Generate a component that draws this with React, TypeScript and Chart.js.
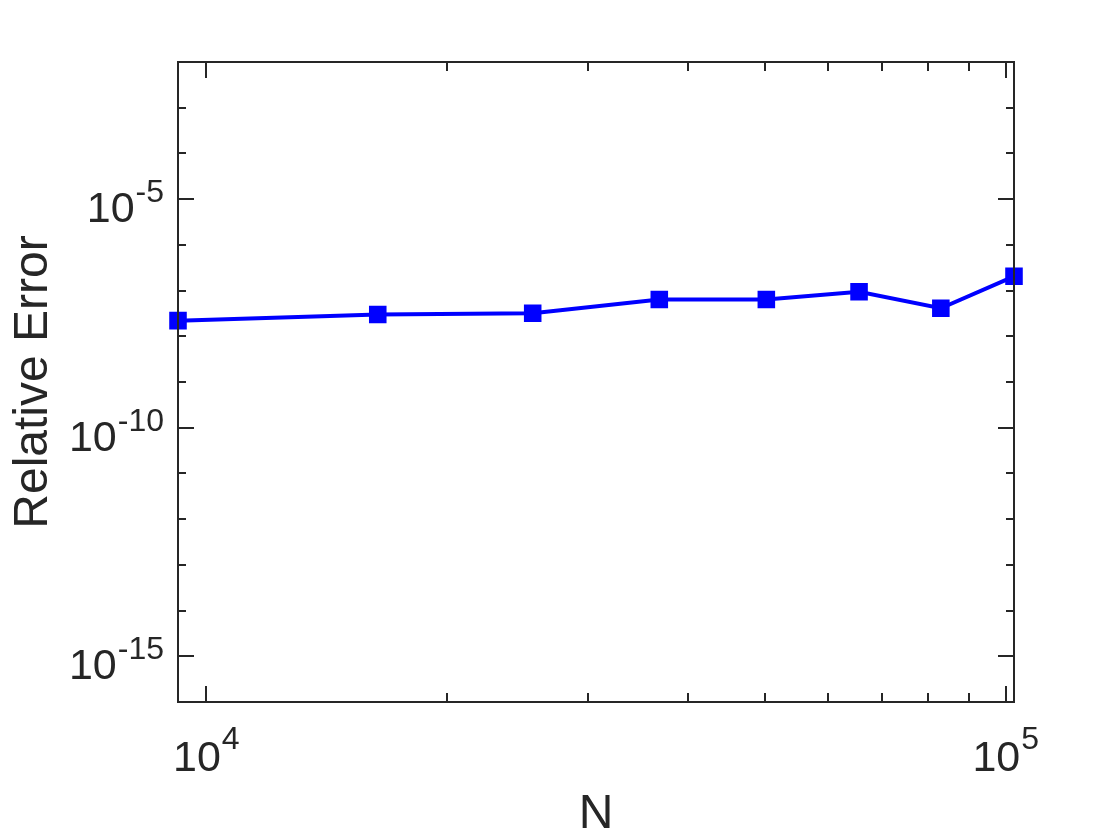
import React, { useEffect, useRef } from "react";
import { Chart, registerables } from "chart.js";

Chart.register(...registerables);

const nValues = [9216, 16384, 25600, 36864, 50176, 65536, 82944, 102400];
const relErrors = [2.2e-8, 3.0e-8, 3.2e-8, 6.4e-8, 6.4e-8, 9.4e-8, 4.1e-8, 2.05e-7];
const yTickExponents = [-16, -15, -14, -13, -12, -11, -10, -9, -8, -7, -6, -5, -4, -3, -2];
const yLabelExponents = [-15, -10, -5];
const xTickValues = [10000, 20000, 30000, 40000, 50000, 60000, 70000, 80000, 90000, 100000];
const xLabelExponents = [4, 5];
const xTitle = "N";
const yTitle = "Relative Error";

const AXIS_COLOR = "#262626";
const FONT = "'Liberation Sans', Arial, Helvetica, sans-serif";

const decorPlugin = {
  id: "matlabDecor",
  afterDraw(chart: any) {
    const ctx = chart.ctx as CanvasRenderingContext2D;
    const area = chart.chartArea;
    const xs = chart.scales.x;
    const ys = chart.scales.y;
    ctx.save();
    ctx.strokeStyle = AXIS_COLOR;
    ctx.fillStyle = AXIS_COLOR;
    ctx.lineWidth = 2;
    ctx.strokeRect(area.left, area.top, area.right - area.left, area.bottom - area.top);
    ctx.beginPath();
    for (const e of yTickExponents) {
      const p = Math.round(ys.getPixelForValue(Math.pow(10, e)));
      const len = yLabelExponents.includes(e) ? 16 : 8;
      ctx.moveTo(area.left, p);
      ctx.lineTo(area.left + len, p);
      ctx.moveTo(area.right, p);
      ctx.lineTo(area.right - len, p);
    }
    for (const v of xTickValues) {
      const p = Math.round(xs.getPixelForValue(v));
      const major = xLabelExponents.some((e) => Math.pow(10, e) === v);
      const len = major ? 16 : 9;
      ctx.moveTo(p, area.bottom);
      ctx.lineTo(p, area.bottom - len);
      ctx.moveTo(p, area.top);
      ctx.lineTo(p, area.top + len);
    }
    ctx.stroke();

    const mainFont = `43px ${FONT}`;
    const expFont = `32px ${FONT}`;
    ctx.textBaseline = "alphabetic";
    for (const e of yLabelExponents) {
      const p = ys.getPixelForValue(Math.pow(10, e));
      const expText = String(e);
      ctx.font = expFont;
      const ew = ctx.measureText(expText).width;
      ctx.font = mainFont;
      const mw = ctx.measureText("10").width;
      const right = area.left - 14;
      const base = p + 23;
      ctx.textAlign = "left";
      ctx.font = mainFont;
      ctx.fillText("10", right - ew - mw - 1, base);
      ctx.font = expFont;
      ctx.fillText(expText, right - ew, base - 20);
    }
    for (const e of xLabelExponents) {
      const p = xs.getPixelForValue(Math.pow(10, e));
      const expText = String(e);
      ctx.font = expFont;
      const ew = ctx.measureText(expText).width;
      ctx.font = mainFont;
      const mw = ctx.measureText("10").width;
      const total = mw + 1 + ew;
      const start = p - total / 2;
      const base = area.bottom + 69;
      ctx.textAlign = "left";
      ctx.font = mainFont;
      ctx.fillText("10", start, base);
      ctx.font = expFont;
      ctx.fillText(expText, start + mw + 1, base - 22);
    }
    ctx.font = `48px ${FONT}`;
    ctx.textAlign = "center";
    ctx.fillText(xTitle, (area.left + area.right) / 2, 828);
    ctx.save();
    ctx.translate(47, (area.top + area.bottom) / 2);
    ctx.rotate(-Math.PI / 2);
    ctx.fillText(yTitle, 0, 0);
    ctx.restore();
    ctx.restore();
  },
};

export default function App() {
  const ref = useRef<HTMLCanvasElement | null>(null);
  useEffect(() => {
    if (!ref.current) return;
    const chart = new Chart(ref.current, {
      type: "line",
      data: {
        datasets: [
          {
            data: nValues.map((n, i) => ({ x: n, y: relErrors[i] })),
            borderColor: "#0000ff",
            backgroundColor: "#0000ff",
            borderWidth: 4,
            pointStyle: "rect",
            pointRadius: 11,
            pointBorderWidth: 2,
            pointBorderColor: "#0000ff",
            pointBackgroundColor: "#0000ff",
            tension: 0,
            clip: false as any,
          },
        ],
      },
      options: {
        animation: false,
        responsive: false,
        events: [],
        layout: { padding: { left: 170, top: 62, right: 106, bottom: 130 } },
        plugins: { legend: { display: false }, tooltip: { enabled: false } },
        scales: {
          x: {
            type: "logarithmic",
            min: 9216,
            max: 102400,
            grid: { display: false },
            border: { display: false },
            ticks: { display: false },
          },
          y: {
            type: "logarithmic",
            min: 1e-16,
            max: 1e-2,
            grid: { display: false },
            border: { display: false },
            ticks: { display: false },
          },
        },
      },
      plugins: [decorPlugin],
    });
    return () => chart.destroy();
  }, []);
  return (
    <div style={{ position: "absolute", left: 0, top: 0, width: 1120, height: 840, background: "#fff" }}>
      <canvas ref={ref} width={1120} height={840} style={{ display: "block" }} />
    </div>
  );
}
